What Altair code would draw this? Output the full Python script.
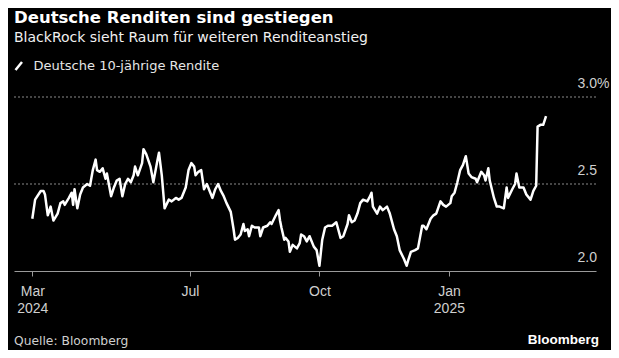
import altair as alt
import pandas as pd

dates = [
    "2024-03-11", "2024-03-13", "2024-03-17", "2024-03-19", "2024-03-20", "2024-03-22", "2024-03-24", "2024-03-26", "2024-03-29", "2024-03-31",
    "2024-04-02", "2024-04-03", "2024-04-06", "2024-04-08", "2024-04-09", "2024-04-10", "2024-04-12", "2024-04-14", "2024-04-16", "2024-04-19", "2024-04-21", "2024-04-23", "2024-04-25", "2024-04-26", "2024-04-28", "2024-04-30",
    "2024-05-02", "2024-05-03", "2024-05-06", "2024-05-08", "2024-05-10", "2024-05-12", "2024-05-14", "2024-05-16", "2024-05-18", "2024-05-20", "2024-05-22", "2024-05-23", "2024-05-25", "2024-05-28", "2024-05-29", "2024-05-31",
    "2024-06-03", "2024-06-05", "2024-06-08", "2024-06-09", "2024-06-11", "2024-06-13", "2024-06-16", "2024-06-18", "2024-06-21", "2024-06-23", "2024-06-25", "2024-06-28", "2024-06-30",
    "2024-07-02", "2024-07-04", "2024-07-05", "2024-07-07", "2024-07-09", "2024-07-11", "2024-07-13", "2024-07-15", "2024-07-17", "2024-07-19", "2024-07-21", "2024-07-23", "2024-07-25", "2024-07-27", "2024-07-30",
    "2024-08-01", "2024-08-02", "2024-08-04", "2024-08-06", "2024-08-08", "2024-08-09", "2024-08-11", "2024-08-12", "2024-08-14", "2024-08-16", "2024-08-19", "2024-08-20", "2024-08-22", "2024-08-25", "2024-08-27", "2024-08-28", "2024-08-31",
    "2024-09-02", "2024-09-03", "2024-09-04", "2024-09-06", "2024-09-07", "2024-09-09", "2024-09-10", "2024-09-12", "2024-09-15", "2024-09-17", "2024-09-18", "2024-09-20", "2024-09-22", "2024-09-24", "2024-09-27", "2024-09-29",
    "2024-10-01", "2024-10-03", "2024-10-05", "2024-10-07", "2024-10-10", "2024-10-13", "2024-10-16", "2024-10-18", "2024-10-21", "2024-10-22", "2024-10-24", "2024-10-26", "2024-10-28", "2024-10-30",
    "2024-11-01", "2024-11-04", "2024-11-06", "2024-11-07", "2024-11-08", "2024-11-11", "2024-11-13", "2024-11-15", "2024-11-18", "2024-11-20", "2024-11-23", "2024-11-25", "2024-11-27", "2024-11-30",
    "2024-12-02", "2024-12-03", "2024-12-05", "2024-12-08", "2024-12-10", "2024-12-13", "2024-12-14", "2024-12-16", "2024-12-19", "2024-12-21", "2024-12-23", "2024-12-26", "2024-12-28", "2024-12-30",
    "2025-01-02", "2025-01-03", "2025-01-05", "2025-01-07", "2025-01-09", "2025-01-11", "2025-01-13", "2025-01-15", "2025-01-17", "2025-01-20", "2025-01-21", "2025-01-24", "2025-01-26", "2025-01-27", "2025-01-29", "2025-01-30",
    "2025-02-02", "2025-02-04", "2025-02-06", "2025-02-09", "2025-02-11", "2025-02-12", "2025-02-15", "2025-02-17", "2025-02-18", "2025-02-20", "2025-02-23", "2025-02-25", "2025-02-28",
    "2025-03-02", "2025-03-04", "2025-03-05", "2025-03-07", "2025-03-09", "2025-03-11",
]

yields = [
    2.30, 2.41, 2.46, 2.46, 2.44, 2.32, 2.37, 2.29, 2.33, 2.39,
    2.40, 2.38, 2.42, 2.45, 2.38, 2.47, 2.36, 2.44, 2.48, 2.50, 2.49, 2.58, 2.64, 2.58, 2.57, 2.59,
    2.53, 2.56, 2.43, 2.48, 2.52, 2.53, 2.43, 2.50, 2.53, 2.51, 2.55, 2.60, 2.55, 2.62, 2.70, 2.67,
    2.60, 2.51, 2.64, 2.68, 2.55, 2.36, 2.41, 2.40, 2.42, 2.41, 2.42, 2.48, 2.58,
    2.62, 2.60, 2.55, 2.57, 2.58, 2.47, 2.50, 2.46, 2.42, 2.47, 2.50, 2.46, 2.43, 2.39, 2.34,
    2.24, 2.18, 2.19, 2.21, 2.27, 2.23, 2.24, 2.20, 2.26, 2.25, 2.25, 2.20, 2.25, 2.26, 2.28, 2.27, 2.32,
    2.35, 2.29, 2.25, 2.18, 2.19, 2.17, 2.11, 2.15, 2.13, 2.16, 2.21, 2.20, 2.17, 2.20, 2.14, 2.12,
    2.03, 2.18, 2.25, 2.26, 2.26, 2.28, 2.19, 2.20, 2.27, 2.32, 2.28, 2.29, 2.33, 2.39,
    2.41, 2.40, 2.43, 2.45, 2.37, 2.33, 2.37, 2.35, 2.37, 2.33, 2.24, 2.20, 2.12, 2.07,
    2.03, 2.06, 2.11, 2.12, 2.13, 2.26, 2.26, 2.24, 2.30, 2.32, 2.33, 2.40, 2.38, 2.37,
    2.39, 2.43, 2.45, 2.51, 2.58, 2.61, 2.66, 2.56, 2.54, 2.53, 2.51, 2.57, 2.55, 2.52, 2.59, 2.52,
    2.42, 2.37, 2.37, 2.36, 2.48, 2.42, 2.47, 2.50, 2.56, 2.48, 2.48, 2.44, 2.41,
    2.46, 2.49, 2.83, 2.84, 2.84, 2.89,
]

y_ticks = [2.0, 2.5, 3.0]
y_tick_labels = ["2.0", "2.5", "3.0%"]
grid_values = [2.5, 3.0]
x_tick_dates = [(2024, 3, 11), (2024, 7, 1), (2024, 10, 1), (2025, 1, 1)]

title = "Deutsche Renditen sind gestiegen"
subtitle = "BlackRock sieht Raum für weiteren Renditeanstieg"
legend_label = "Deutsche 10-jährige Rendite"
source = "Quelle: Bloomberg"
logo = "Bloomberg"

W, H = 582, 174
LABEL = "#cfcfcf"

df = pd.DataFrame({"date": dates, "yield": yields})

x_scale = alt.Scale(
    type="utc",
    domain=[
        alt.DateTime(year=2024, month=2, date=27, utc=True),
        alt.DateTime(year=2025, month=4, date=15, hours=12, utc=True),
    ],
)
y_scale = alt.Scale(domain=[2.0, 3.0], nice=False, zero=False)

grid = alt.Chart(pd.DataFrame({"v": grid_values})).mark_rule(
    color="#8a8a8a", strokeDash=[2, 2], strokeWidth=1
).encode(y=alt.Y("v:Q", scale=y_scale, axis=None))

line = alt.Chart(df).mark_line(color="white", strokeWidth=2.5, strokeJoin="round").encode(
    x=alt.X(
        "date:T",
        scale=x_scale,
        axis=alt.Axis(
            values=[alt.DateTime(year=y, month=m, date=d, utc=True) for y, m, d in x_tick_dates],
            labelExpr="[utcFormat(datum.value, '%b'), (utcFormat(datum.value, '%m') == '03' || utcFormat(datum.value, '%m') == '01') ? utcFormat(datum.value, '%Y') : '']",
            title=None,
            grid=False,
            domainColor="#9a9a9a",
            tickColor="#9a9a9a",
            tickSize=5,
            labelColor=LABEL,
            labelFont="Liberation Sans",
            labelFontSize=14,
            labelPadding=8,
            labelLineHeight=17,
            labelOverlap=False,
            labelAlign="center",
            labelBaseline="top",
            labelFlush=False,
        ),
    ),
    y=alt.Y("yield:Q", scale=y_scale, axis=None),
)

ylab = alt.Chart(pd.DataFrame({"v": y_ticks, "l": y_tick_labels})).mark_text(
    align="left", baseline="alphabetic", dy=-9, font="Liberation Sans", fontSize=14, color=LABEL
).encode(y=alt.Y("v:Q", scale=y_scale, axis=None), x=alt.value(W - 18.5), text="l:N")


def txt(s, x, y, size, color, weight="normal", align="left", font="DejaVu Sans"):
    return alt.Chart(pd.DataFrame({"t": [s]})).mark_text(
        align=align, baseline="alphabetic", font=font, fontSize=size, fontWeight=weight, color=color
    ).encode(x=alt.value(x), y=alt.value(y), text="t:N")


t_title = txt(title, 0, -74, 16.5, "#ffffff", "bold")
t_sub = txt(subtitle, 0, -55, 14, "#f0f0f0")
t_leg = txt(legend_label, 19.5, -27.5, 13, "#e6e6e6")
slash = alt.Chart(pd.DataFrame({"k": [0]})).mark_rule(color="white", strokeWidth=2.5).encode(
    x=alt.value(1.5), y=alt.value(-27), x2=alt.value(8), y2=alt.value(-35)
)
t_src = txt(source, 0, 248, 12.3, LABEL)
t_logo = txt(logo, 585, 246.5, 13.5, "#ffffff", "bold", "right", "Liberation Sans")

chart = alt.layer(grid, line, ylab, t_title, t_sub, t_leg, slash, t_src, t_logo).properties(
    width=W,
    height=H,
    padding={"left": 6, "top": 89, "right": 15, "bottom": 79},
    autosize=alt.AutoSizeParams(type="none"),
    background="black",
).configure_view(stroke=None)

chart.save("out.html", embed_options={"renderer": "svg", "actions": False})
